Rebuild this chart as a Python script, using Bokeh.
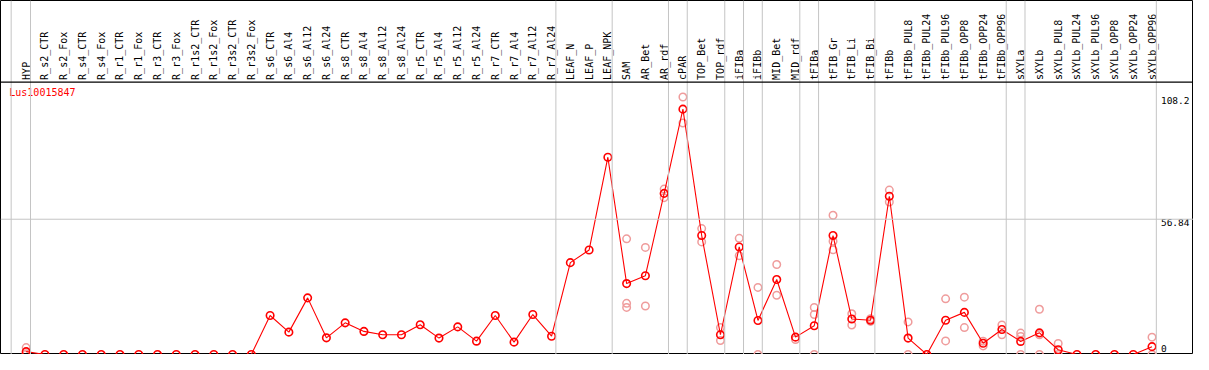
import math
from bokeh.plotting import figure
from bokeh.models import Range1d, Span, ColumnDataSource
from bokeh.core.properties import value
from bokeh.embed import file_html
from bokeh.resources import INLINE

gene_id = "Lus10015847"

categories = [
    "HYP", "R_s2_CTR", "R_s2_Fox", "R_s4_CTR", "R_s4_Fox", "R_r1_CTR", "R_r1_Fox",
    "R_r3_CTR", "R_r3_Fox", "R_r1s2_CTR", "R_r1s2_Fox", "R_r3s2_CTR", "R_r3s2_Fox",
    "R_s6_CTR", "R_s6_Al4", "R_s6_Al12", "R_s6_Al24", "R_s8_CTR", "R_s8_Al4",
    "R_s8_Al12", "R_s8_Al24", "R_r5_CTR", "R_r5_Al4", "R_r5_Al12", "R_r5_Al24",
    "R_r7_CTR", "R_r7_Al4", "R_r7_Al12", "R_r7_Al24", "LEAF_N", "LEAF_P", "LEAF_NPK",
    "SAM", "AR_Bet", "AR_rdf", "cPAR", "TOP_Bet", "TOP_rdf", "iFIBa", "iFIBb",
    "MID_Bet", "MID_rdf", "tFIBa", "tFIB_Gr", "tFIB_Li", "tFIB_Bi", "tFIBb",
    "tFIBb_PUL8", "tFIBb_PUL24", "tFIBb_PUL96", "tFIBb_OPP8", "tFIBb_OPP24",
    "tFIBb_OPP96", "sXYLa", "sXYLb", "sXYLb_PUL8", "sXYLb_PUL24", "sXYLb_PUL96",
    "sXYLb_OPP8", "sXYLb_OPP24", "sXYLb_OPP96",
]

mean_values = [
    1.2, 0, 0, 0, 0, 0, 0, 0, 0, 0, 0, 0, 0,
    16.4, 9.4, 23.8, 7.0, 13.3, 9.7, 8.3, 8.3, 12.5, 6.9, 11.6, 5.6,
    16.4, 5.2, 16.8, 7.7, 38.6, 43.9, 82.9,
    29.8, 33.1, 67.7, 103.1, 50.0, 8.3, 45.2, 14.3,
    31.5, 7.3, 12.1, 50.0, 14.9, 14.4, 66.5,
    6.9, 0.0, 14.4, 17.7, 4.7, 10.5,
    5.5, 9.1, 2.0, 0, 0, 0, 0, 3.3,
]

replicates = {
    "HYP": [2.9, 0.3],
    "SAM": [48.6, 21.5, 19.8],
    "AR_Bet": [45.0, 20.4],
    "AR_rdf": [69.5, 65.9],
    "cPAR": [108.2, 97.3],
    "TOP_Bet": [52.9, 47.3],
    "TOP_rdf": [11.3, 5.9],
    "iFIBa": [48.8, 41.5],
    "iFIBb": [28.2, 0.0],
    "MID_Bet": [37.8, 24.9],
    "MID_rdf": [6.3],
    "tFIBa": [19.8, 16.8, 0.0],
    "tFIB_Gr": [58.5, 47.6, 44.0],
    "tFIB_Li": [17.1, 12.4],
    "tFIB_Bi": [15.0, 13.9],
    "tFIBb": [69.1, 64.1],
    "tFIBb_PUL8": [13.7, 0.0],
    "tFIBb_PUL96": [23.4, 5.7],
    "tFIBb_OPP8": [24.1, 11.3],
    "tFIBb_OPP24": [5.6, 3.6],
    "tFIBb_OPP96": [12.4, 8.3],
    "sXYLa": [9.0, 7.6, 0.0],
    "sXYLb": [19.0, 8.3, 0.0],
    "sXYLb_PUL8": [4.6, 0.0],
    "sXYLb_OPP96": [7.3, 0.0],
}

# separators drawn after these categories
group_ends = ["HYP", "R_r7_Al24", "LEAF_NPK", "AR_rdf", "cPAR", "TOP_rdf", "iFIBa",
              "iFIBb", "MID_rdf", "tFIBa", "tFIB_Bi", "tFIBb_OPP96", "sXYLa", "sXYLb_OPP96"]

y_ticks = [0, 56.84, 108.2]
y_tick_labels = ["0", "56.84", "108.2"]

# ---------------------------------------------------------------
W, H = 1193, 354
PX = 2.4806              # reference pixels per unit
Y_TOP = 369 / PX         # top of the frame
Y_SEP = (369 - 85) / PX  # separator between label band and plot
X0, X1 = -26 / 19, (1208 - 26) / 19

p = figure(width=W, height=H, x_range=Range1d(X0, X1), y_range=Range1d(0, Y_TOP),
           output_backend="svg", toolbar_location=None,
           x_axis_location=None, y_axis_location=None,
           min_border=0, min_border_left=0, min_border_right=0,
           min_border_top=0, min_border_bottom=0)
p.xgrid.visible = False
p.ygrid.visible = False
p.outline_line_color = "black"
p.outline_line_width = 1
p.background_fill_color = "white"
p.border_fill_color = "white"

FONT = value("DejaVu Sans Mono")
GRID = "#c4c4c4"

# vertical group separators
p.add_layout(Span(location=-0.8, dimension="height", line_color=GRID, line_width=1))
for name in group_ends:
    p.add_layout(Span(location=categories.index(name) + 0.23, dimension="height",
                      line_color=GRID, line_width=1))

# horizontal grid line(s)
for t in y_ticks[1:-1]:
    p.add_layout(Span(location=t, dimension="width", line_color=GRID, line_width=1))

# separator line under labels
p.add_layout(Span(location=Y_SEP, dimension="width", line_color="black", line_width=1.2))

xs = list(range(len(categories)))

# category labels (vertical)
lab_src = ColumnDataSource(dict(x=xs, y=[Y_SEP + 0.9] * len(xs), t=categories))
p.text(x="x", y="y", text="t", source=lab_src, angle=math.pi / 2,
       text_align="left", text_baseline="middle", text_font=FONT,
       text_font_size="10px", text_color="black")

# replicate points
rx, ry = [], []
for i, c in enumerate(categories):
    for v in replicates.get(c, []):
        rx.append(i)
        ry.append(v)
p.scatter(rx, ry, marker="circle", size=7.5, fill_color=None,
          line_color="#ef9c9c", line_width=1.5)

# mean line and points
p.line(xs, mean_values, line_color="red", line_width=1.1)
p.scatter(xs, mean_values, marker="circle", size=7.5, fill_color=None,
          line_color="red", line_width=1.6)

# gene id
p.text(x=[-0.9], y=[112.6], text=[gene_id], text_font=FONT, text_font_size="10px",
       text_color="red", text_align="left", text_baseline="top")

# y tick labels at right
lx = (1175 - 26) / 19
for t, lab in zip(y_ticks, y_tick_labels):
    if t == 0:
        p.text(x=[lx], y=[1.2], text=[lab], text_font=FONT, text_font_size="9.5px",
               text_color="black", text_align="left", text_baseline="bottom")
    else:
        p.text(x=[lx], y=[t], text=[lab], text_font=FONT, text_font_size="9.5px",
               text_color="black", text_align="left", text_baseline="top")

open("out.html", "w").write(file_html(p, INLINE))
